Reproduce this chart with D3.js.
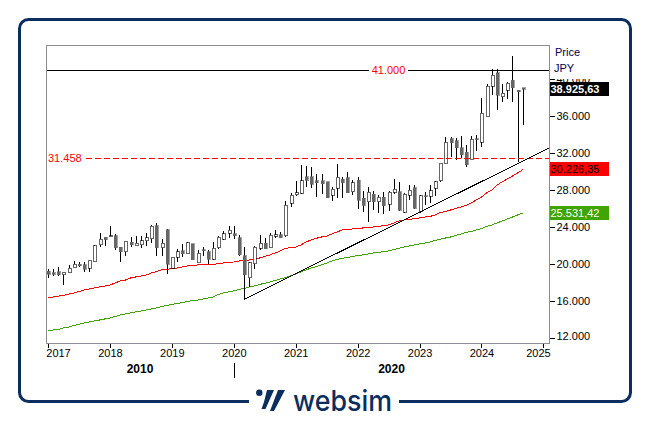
<!DOCTYPE html>
<html>
<head>
<meta charset="utf-8">
<script src="https://cdn.jsdelivr.net/npm/d3@7"></script>
<style>
  html, body { margin: 0; padding: 0; background: #fff; }
  svg { display: block; }
  text { font-family: "Liberation Sans", Arial, sans-serif; }
</style>
</head>
<body>
<script>
// monthly candles, Jan 2017 to Sep 2024
var opens = [19240,19060,19170,18880,19100,19630,20030,19930,19600,20280,22120,22950,22990,23080,21870,21360,22410,22010,22120,22560,22770,24180,21800,23730,
  19570,20760,21470,21120,22230,20180,21580,21370,20550,21800,22710,23360,23280,22880,20900,18560,20040,21760,22300,21870,23030,23170,23060,26600,
  27530,27680,29440,29440,29010,29010,28900,27460,28220,29220,29330,27850,29110,27130,26770,27600,26770,27240,26490,27780,27820,25650,27490,28280,
  25690,27420,27350,28220,29010,30920,33550,33360,32590,32110,31350,33550,33190,35960,39240,40720,38120,38810,39920,38840,39100];
var highs = [19490,19490,19710,19200,19960,20360,20250,20220,20390,22060,23390,22950,24140,23260,21900,22450,22990,23030,23060,23350,24220,24440,22700,23770,
  20820,21660,22230,22380,22230,21520,21900,21580,22380,23060,23600,24140,24140,23170,21900,20250,21980,23170,22850,23390,23680,23530,26840,27680,
  29010,30740,30630,30490,29760,29760,28900,28330,30840,29470,29950,29110,29410,27950,28330,27950,27490,27850,27930,29220,28900,27680,28570,28570,
  27490,27850,28620,29010,31000,33730,33730,33620,33900,32900,33820,33980,38010,39490,41110,41110,39490,39740,42520,38840,39100];
var lows = [18520,18740,18780,17800,19100,19600,19670,19200,19200,20250,21900,22010,22990,21550,20250,20900,21900,22010,21730,22010,22300,20930,20930,18900,
  19460,20280,20760,21120,20500,20180,20900,20040,20470,21660,22600,22880,22740,20900,16220,17520,19460,21550,21660,21840,22810,22880,22990,26230,
  27420,27600,28330,28280,27310,27600,27200,26880,27170,27200,27680,27490,25980,25690,24610,25870,25580,25440,25800,27600,25800,25580,26950,25950,
  25510,26410,26600,27420,28900,30920,31630,31280,31510,30490,31350,32250,32650,35890,38300,36680,37510,37840,37580,31110,35090];
var closes = [18950,18920,18870,19130,19570,20000,19850,19490,20360,21980,22700,22630,23060,21790,21330,22450,22120,22300,22520,22850,24140,21800,22300,20020,
  20760,21370,21120,22340,20500,21190,21520,20550,21730,22950,23280,23680,23090,21010,18850,20180,21870,22300,21660,23140,23170,22880,26410,27490,
  27710,29010,29110,28680,28790,28710,27200,28140,29410,28790,27710,28790,26950,26410,27780,26770,27240,26340,27780,28110,25870,27600,28030,26060,
  27390,27350,27970,28900,30920,33190,33150,32610,31830,30740,33540,33440,36320,39240,40430,38300,38490,39600,39090,38660,38925.63];

var ma1 = [16360,16470,16570,16630,16790,16900,17060,17220,17330,17440,17550,17650,17760,17980,18200,18300,18520,18630,18740,18840,19060,19220,19390,19440,
  19550,19600,19710,19820,19870,19930,19980,19980,19980,20090,20140,20200,20250,20360,20410,20470,20570,20680,20840,21010,21220,21440,21710,21820,
  21870,22090,22410,22630,22810,22950,23060,23280,23490,23710,23760,23820,23820,23930,23980,24030,24090,24200,24250,24470,24680,24790,24840,24950,
  25010,25110,25170,25330,25600,25710,25870,26030,26200,26360,26630,26950,27280,27710,28030,28570,28900,29220,29550,29870,30226.35];
var ma2 = [12870,12900,12950,13120,13220,13390,13520,13660,13760,13870,13980,14090,14200,14360,14520,14630,14740,14850,14950,15060,15170,15280,15420,15550,
  15660,15760,15870,15980,16090,16140,16250,16360,16470,16740,16900,17010,17120,17280,17390,17550,17660,17820,17950,18090,18250,18410,18570,18740,
  18950,19170,19390,19600,19740,19930,20140,20360,20520,20650,20740,20840,20950,21010,21120,21220,21280,21390,21440,21600,21730,21870,21980,22090,
  22200,22300,22410,22570,22700,22840,22950,23110,23280,23440,23550,23710,23870,24090,24250,24470,24680,24900,25110,25330,25531.42];

var trendMonths = [38, 97];
var trendPrices = [16220, 32540];
var resistance = 41000;
var support = 31458;

var yearLabels = ["2017","2018","2019","2020","2021","2022","2023","2024","2025"];
var priceTicks = [12000,16000,20000,24000,28000,32000,36000,40000];

var width = 649, height = 421;
var svg = d3.select("body").append("svg").attr("width", width).attr("height", height);

var fmt = d3.formatLocale({ decimal: ",", thousands: ".", grouping: [3], currency: ["", ""] });
var fmtTick = fmt.format(",.0f");
var fmtLast = fmt.format(",.2f");

// outer frame
var navy = "#0b2e5e";
svg.append("rect").attr("x", 19.5).attr("y", 19.5).attr("width", 611).attr("height", 382)
  .attr("rx", 9).attr("fill", "none").attr("stroke", navy).attr("stroke-width", 3);
svg.append("rect").attr("x", 249).attr("y", 396).attr("width", 150).attr("height", 12).attr("fill", "#fff");

var plot = { left: 46.5, top: 45.5, right: 549.5, bottom: 343.5 };

var x = d3.scaleLinear().domain([0, 96]).range([48, 543.4]);
var y = d3.scaleLinear().domain([12000, 36000]).range([338.3, 116.3]);

// axes
var yAxis = d3.axisRight(y).tickValues(priceTicks).tickSize(5).tickPadding(2).tickFormat(fmtTick);
var gy = svg.append("g").attr("transform", "translate(" + plot.right + ",0)").call(yAxis);
gy.select(".domain").remove();
gy.selectAll("text").attr("font-size", 11).attr("fill", "#000")
  .attr("dy", function(d) { return d == 12000 ? "0.1em" : "0.32em"; })
  .attr("font-family", "Liberation Sans");
gy.selectAll("line").attr("stroke", "#000").attr("shape-rendering", "crispEdges");

var xAxis = d3.axisBottom(x).tickValues(yearLabels.map(function(d, i) { return i * 12; }))
  .tickSize(4).tickPadding(2).tickFormat(function(d) { return yearLabels[d / 12]; });
var gx = svg.append("g").attr("transform", "translate(0," + plot.bottom + ")").call(xAxis);
gx.select(".domain").remove();
gx.selectAll("text").attr("font-size", 11).attr("fill", "#000").attr("font-family", "Liberation Sans")
  .attr("dx", function(d) { return d == 0 ? 10 : (d == 96 ? -5.5 : 0); });
gx.selectAll("line").attr("stroke", "#000").attr("shape-rendering", "crispEdges");

// white patch behind the Price / JPY header hides the top of the 40.000 label
svg.append("rect").attr("x", 551).attr("y", 46).attr("width", 60).attr("height", 33).attr("fill", "#fff");
svg.append("text").attr("x", 555).attr("y", 56).attr("font-size", 11).attr("fill", "#000050").text("Price");
svg.append("text").attr("x", 554).attr("y", 72).attr("font-size", 11).attr("fill", "#000050").text("JPY");

// moving averages
var line = d3.line().x(function(d, i) { return x(i); }).y(function(d) { return y(d); });
svg.append("path").datum(ma2).attr("d", line).attr("fill", "none")
  .attr("stroke", "#3fa400").attr("stroke-width", 1).attr("shape-rendering", "crispEdges");
svg.append("path").datum(ma1).attr("d", line).attr("fill", "none")
  .attr("stroke", "#f00").attr("stroke-width", 1).attr("shape-rendering", "crispEdges");

// candles
var candles = svg.append("g").selectAll("g").data(opens).enter().append("g")
  .attr("shape-rendering", "crispEdges");
candles.append("line")
  .attr("x1", function(d, i) { return Math.round(x(i)) + 0.5; })
  .attr("x2", function(d, i) { return Math.round(x(i)) + 0.5; })
  .attr("y1", function(d, i) { return y(highs[i]); })
  .attr("y2", function(d, i) { return y(lows[i]); })
  .attr("stroke", "#000").attr("stroke-width", 1);
candles.append("rect")
  .attr("x", function(d, i) { return Math.round(x(i)) - 1; })
  .attr("width", 3)
  .attr("y", function(d, i) { return y(Math.max(d, closes[i])); })
  .attr("height", function(d, i) { return Math.max(1, Math.abs(y(d) - y(closes[i]))); })
  .attr("fill", function(d, i) { return closes[i] >= d ? "#fff" : "#666"; })
  .attr("stroke", function(d, i) { return closes[i] >= d ? "#000" : "#666"; })
  .attr("stroke-width", 0.6);

// horizontal levels and trend line
svg.append("line").attr("x1", plot.left).attr("x2", plot.right)
  .attr("y1", y(resistance)).attr("y2", y(resistance))
  .attr("stroke", "#000").attr("stroke-width", 1).attr("shape-rendering", "crispEdges");
svg.append("rect").attr("x", 369).attr("y", y(resistance) - 6).attr("width", 39).attr("height", 12).attr("fill", "#fff");
svg.append("text").attr("x", 388.5).attr("y", y(resistance) + 4).attr("text-anchor", "middle")
  .attr("font-size", 11).attr("fill", "#f00").text(fmtTick(resistance));

svg.append("line").attr("x1", 86).attr("x2", plot.right)
  .attr("y1", y(support)).attr("y2", y(support))
  .attr("stroke", "#f00").attr("stroke-width", 1).attr("stroke-dasharray", "6,3").attr("shape-rendering", "crispEdges");
svg.append("text").attr("x", 48).attr("y", y(support) + 4)
  .attr("font-size", 11).attr("fill", "#f00").text("31.458");

svg.append("line").attr("x1", x(trendMonths[0])).attr("x2", x(trendMonths[1]))
  .attr("y1", y(trendPrices[0])).attr("y2", y(trendPrices[1]))
  .attr("stroke", "#000").attr("stroke-width", 1).attr("shape-rendering", "crispEdges");

// plot border
svg.append("rect").attr("x", plot.left).attr("y", plot.top)
  .attr("width", plot.right - plot.left).attr("height", plot.bottom - plot.top)
  .attr("fill", "none").attr("stroke", "#8c8c96").attr("stroke-width", 1).attr("shape-rendering", "crispEdges");

// last value tags
var tags = [
  { v: closes[closes.length - 1], bg: "#000", fg: "#fff", weight: "bold" },
  { v: ma1[ma1.length - 1], bg: "#f00", fg: "#000", weight: "normal" },
  { v: ma2[ma2.length - 1], bg: "#3fa400", fg: "#fff", weight: "normal" }
];
tags.forEach(function(t) {
  svg.append("rect").attr("x", 550).attr("y", Math.floor(y(t.v)) - 7).attr("width", 59).attr("height", 14).attr("fill", t.bg);
  svg.append("text").attr("x", 550.5).attr("y", Math.floor(y(t.v)) + 4).attr("font-size", 11)
    .attr("font-weight", t.weight).attr("fill", t.fg).text(fmtLast(t.v));
});

// decade labels
svg.append("text").attr("x", 140).attr("y", 373).attr("text-anchor", "middle")
  .attr("font-size", 12).attr("font-weight", "bold").text("2010");
svg.append("text").attr("x", 391.5).attr("y", 373).attr("text-anchor", "middle")
  .attr("font-size", 12).attr("font-weight", "bold").text("2020");
svg.append("line").attr("x1", x(36) + 0.5).attr("x2", x(36) + 0.5).attr("y1", 363).attr("y2", 378)
  .attr("stroke", "#000").attr("stroke-width", 1).attr("shape-rendering", "crispEdges");

// logo
var logo = svg.append("g").attr("fill", navy);
logo.append("circle").attr("cx", 259.3).attr("cy", 392.7).attr("r", 3.2);
logo.append("path").attr("d", "M267,390H274L265.5,409H261.5L264,402Z");
logo.append("path").attr("d", "M278,390H285L274,411H270Z");
logo.append("text").attr("x", 293).attr("y", 411).attr("font-size", 29).attr("font-weight", 500)
  .attr("textLength", 99).attr("lengthAdjust", "spacingAndGlyphs")
  .style("font-family", "Inter").text("websim");
</script>
</body>
</html>
